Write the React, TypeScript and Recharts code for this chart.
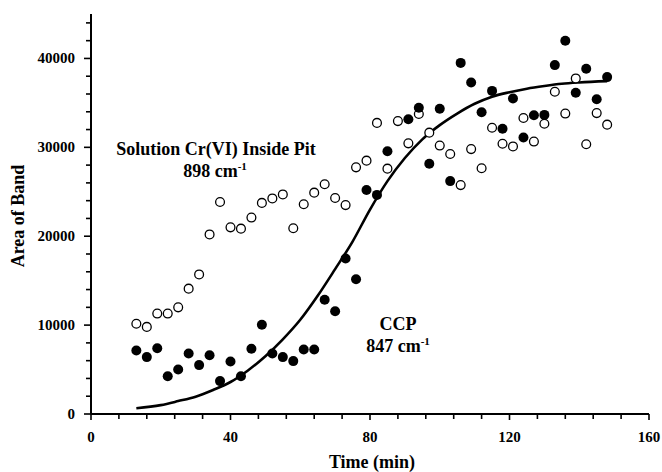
import React from "react";
import { ComposedChart, Scatter, Line, XAxis, YAxis } from "recharts";

// Sampling times (min)
const times: number[] = [
  13, 16, 19, 22, 25, 28, 31, 34, 37, 40, 43, 46, 49, 52, 55, 58, 61, 64, 67, 70,
  73, 76, 79, 82, 85, 88, 91, 94, 97, 100, 103, 106, 109, 112, 115, 118, 121, 124,
  127, 130, 133, 136, 139, 142, 145, 148,
];

// Solution Cr(VI) inside pit, 898 cm-1 band area (open circles)
const solutionArea: number[] = [
  10150, 9800, 11300, 11300, 12000, 14100, 15700, 20200, 23850, 21000, 20850, 22100,
  23750, 24250, 24700, 20900, 23600, 24900, 25850, 24300, 23500, 27750, 28500, 32750,
  27600, 32950, 30450, 33750, 31650, 30200, 29250, 25750, 29800, 27650, 32200, 30400,
  30100, 33300, 30650, 32650, 36250, 33800, 37750, 30350, 33850, 32550,
];

// CCP, 847 cm-1 band area (filled circles); no reading at 88 min
const ccpTimes: number[] = [
  13, 16, 19, 22, 25, 28, 31, 34, 37, 40, 43, 46, 49, 52, 55, 58, 61, 64, 67, 70,
  73, 76, 79, 82, 85, 91, 94, 97, 100, 103, 106, 109, 112, 115, 118, 121, 124,
  127, 130, 133, 136, 139, 142, 145, 148,
];
const ccpArea: number[] = [
  7150, 6400, 7400, 4250, 5000, 6800, 5500, 6600, 3700, 5900, 4250, 7350, 10050,
  6800, 6400, 5950, 7250, 7250, 12850, 11550, 17500, 15150, 25200, 24650, 29550,
  33150, 34450, 28150, 34350, 26200, 39500, 37300, 33950, 36350, 32100, 35500,
  31100, 33600, 33650, 39250, 42000, 36150, 38850, 35400, 37900,
];

// Fitted sigmoid through the CCP data
const fitTimes: number[] = [
  13, 20, 25, 30, 35, 40, 45, 50, 55, 60, 65, 70, 75, 80, 85, 90, 95, 100, 105, 110,
  115, 120, 125, 130, 135, 140, 148,
];
const fitArea: number[] = [
  650, 1000, 1450, 1950, 2700, 3600, 4900, 6500, 8400, 10600, 13300, 16300, 19400,
  23000, 26200, 28800, 30900, 32500, 33800, 34900, 35700, 36200, 36600, 36900,
  37150, 37300, 37450,
];

const yTicks: number[] = Array.from({ length: 23 }, (_, i) => i * 2000);
const xTicks: number[] = Array.from({ length: 21 }, (_, i) => i * 8);

const openPts = times.map((t, i) => ({ t, v: solutionArea[i] }));
const filledPts = ccpTimes.map((t, i) => ({ t, v: ccpArea[i] }));
const fitPts = fitTimes.map((t, i) => ({ t, v: fitArea[i] }));

const FONT = '"Liberation Serif", "Times New Roman", serif';

const YTick = (props: any) => {
  const { x, y, payload } = props;
  const v = payload.value as number;
  const major = v % 10000 === 0;
  return (
    <g>
      <line x1={x - (major ? 7 : 5)} x2={x} y1={y} y2={y} stroke="#000" strokeWidth={1.6} />
      {major && (
        <text x={x - 16} y={y + 5} textAnchor="end" fontFamily={FONT} fontWeight="bold" fontSize={15} fill="#000">
          {v}
        </text>
      )}
    </g>
  );
};

const XTick = (props: any) => {
  const { x, y, payload } = props;
  const v = payload.value as number;
  const major = v % 40 === 0;
  return (
    <g>
      <line x1={x} x2={x} y1={y} y2={y + (major ? 6 : 5)} stroke="#000" strokeWidth={1.6} />
      {major && (
        <text x={x} y={y + 28} textAnchor="middle" fontFamily={FONT} fontWeight="bold" fontSize={15} fill="#000">
          {v}
        </text>
      )}
    </g>
  );
};

const OpenDot = (props: any) => {
  const { cx, cy } = props;
  return <circle cx={cx} cy={cy} r={4.4} fill="#fff" stroke="#000" strokeWidth={1.3} />;
};

const FilledDot = (props: any) => {
  const { cx, cy } = props;
  return <circle cx={cx} cy={cy} r={5} fill="#000" />;
};

const textStyle = { fontFamily: FONT, fontWeight: "bold" as const, fill: "#000" };

export default function App() {
  return (
    <div style={{ position: "absolute", left: 0, top: 0, width: 662, height: 472, background: "#fff" }}>
      <ComposedChart width={662} height={472} margin={{ top: 14, right: 13, bottom: 0, left: 0 }}>
        <XAxis
          type="number"
          dataKey="t"
          domain={[0, 160]}
          ticks={xTicks}
          interval={0}
          height={58}
          tickSize={0}
          tickMargin={0}
          tickLine={false}
          tick={<XTick />}
          axisLine={{ stroke: "#000", strokeWidth: 2 }}
        />
        <YAxis
          type="number"
          domain={[0, 45000]}
          ticks={yTicks}
          interval={0}
          width={91}
          tickSize={0}
          tickMargin={0}
          tickLine={false}
          tick={<YTick />}
          axisLine={{ stroke: "#000", strokeWidth: 2 }}
        />
        <Line
          data={fitPts}
          dataKey="v"
          type="monotone"
          stroke="#000"
          strokeWidth={2.6}
          dot={false}
          activeDot={false}
          isAnimationActive={false}
        />
        <Scatter data={openPts} dataKey="v" shape={<OpenDot />} isAnimationActive={false} />
        <Scatter data={filledPts} dataKey="v" shape={<FilledDot />} isAnimationActive={false} />
      </ComposedChart>
      <svg
        width={662}
        height={472}
        style={{ position: "absolute", left: 0, top: 0, pointerEvents: "none" }}
      >
        <text x={216} y={155} textAnchor="middle" fontSize={18} {...textStyle}>
          Solution Cr(VI) Inside Pit
        </text>
        <text x={215} y={176.5} textAnchor="middle" fontSize={18} {...textStyle}>
          898 cm<tspan fontSize={11} dy={-7}>-1</tspan>
        </text>
        <text x={398} y={330} textAnchor="middle" fontSize={18} {...textStyle}>
          CCP
        </text>
        <text x={398} y={352} textAnchor="middle" fontSize={18} {...textStyle}>
          847 cm<tspan fontSize={11} dy={-7}>-1</tspan>
        </text>
        <text x={372} y={468} textAnchor="middle" fontSize={18} {...textStyle}>
          Time (min)
        </text>
        <text transform="translate(24,216) rotate(-90)" x={0} y={0} textAnchor="middle" fontSize={18} {...textStyle}>
          Area of Band
        </text>
      </svg>
    </div>
  );
}
